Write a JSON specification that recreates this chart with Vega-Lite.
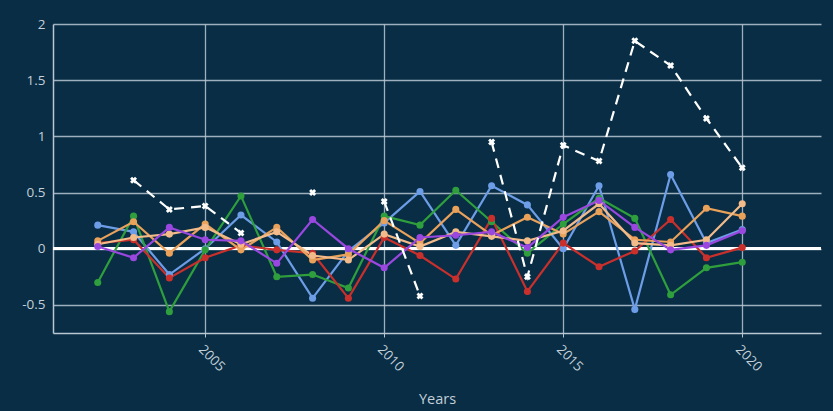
{
  "$schema": "https://vega.github.io/schema/vega-lite/v6.json",
  "width": 768,
  "height": 309,
  "autosize": "none",
  "padding": {"left": 53, "top": 24, "right": 12, "bottom": 78},
  "background": "#082d44",
  "config": {
    "view": {"stroke": null},
    "font": "Open Sans",
    "axis": {
      "labelColor": "#c3cfd9",
      "titleColor": "#c3cfd9",
      "labelFont": "Open Sans",
      "titleFont": "Open Sans",
      "labelFontSize": 13.5,
      "titleFontSize": 14.5,
      "titleFontWeight": "normal",
      "gridColor": "#b9c7d2",
      "gridWidth": 1.3,
      "gridOpacity": 0.85,
      "domainColor": "#b9c7d2",
      "domainWidth": 1.5,
      "tickColor": "#b9c7d2"
    }
  },
  "data": {
    "values": [
      {"year": 2002, "blue": 0.21, "green": -0.30, "red": 0.05, "orange": 0.07, "peach": 0.04, "purple": 0.02, "white": null},
      {"year": 2003, "blue": 0.15, "green": 0.29, "red": 0.08, "orange": 0.24, "peach": 0.10, "purple": -0.08, "white": 0.61},
      {"year": 2004, "blue": -0.23, "green": -0.56, "red": -0.26, "orange": -0.04, "peach": 0.13, "purple": 0.19, "white": 0.35},
      {"year": 2005, "blue": 0.00, "green": -0.01, "red": -0.08, "orange": 0.22, "peach": 0.19, "purple": 0.08, "white": 0.38},
      {"year": 2006, "blue": 0.30, "green": 0.47, "red": 0.03, "orange": -0.01, "peach": 0.04, "purple": 0.07, "white": 0.14},
      {"year": 2007, "blue": 0.06, "green": -0.25, "red": -0.01, "orange": 0.19, "peach": 0.15, "purple": -0.13, "white": null},
      {"year": 2008, "blue": -0.44, "green": -0.23, "red": -0.04, "orange": -0.10, "peach": -0.06, "purple": 0.26, "white": 0.50},
      {"year": 2009, "blue": -0.02, "green": -0.35, "red": -0.44, "orange": -0.05, "peach": -0.10, "purple": 0.00, "white": null},
      {"year": 2010, "blue": 0.23, "green": 0.29, "red": 0.10, "orange": 0.25, "peach": 0.13, "purple": -0.17, "white": 0.42},
      {"year": 2011, "blue": 0.51, "green": 0.21, "red": -0.06, "orange": 0.05, "peach": 0.02, "purple": 0.10, "white": -0.42},
      {"year": 2012, "blue": 0.03, "green": 0.52, "red": -0.27, "orange": 0.35, "peach": 0.15, "purple": 0.12, "white": null},
      {"year": 2013, "blue": 0.56, "green": 0.24, "red": 0.27, "orange": 0.12, "peach": 0.11, "purple": 0.15, "white": 0.95},
      {"year": 2014, "blue": 0.39, "green": -0.04, "red": -0.38, "orange": 0.28, "peach": 0.07, "purple": 0.01, "white": -0.25},
      {"year": 2015, "blue": 0.00, "green": 0.22, "red": 0.05, "orange": 0.13, "peach": 0.16, "purple": 0.28, "white": 0.92},
      {"year": 2016, "blue": 0.56, "green": 0.45, "red": -0.16, "orange": 0.33, "peach": 0.40, "purple": 0.43, "white": 0.78},
      {"year": 2017, "blue": -0.54, "green": 0.27, "red": -0.02, "orange": 0.08, "peach": 0.05, "purple": 0.19, "white": 1.85},
      {"year": 2018, "blue": 0.66, "green": -0.41, "red": 0.26, "orange": 0.06, "peach": 0.03, "purple": -0.01, "white": 1.63},
      {"year": 2019, "blue": 0.05, "green": -0.17, "red": -0.08, "orange": 0.36, "peach": 0.08, "purple": 0.03, "white": 1.16},
      {"year": 2020, "blue": 0.17, "green": -0.12, "red": 0.01, "orange": 0.29, "peach": 0.40, "purple": 0.16, "white": 0.72}
    ]
  },
  "transform": [
    {"fold": ["blue", "green", "red", "orange", "peach", "purple", "white"], "as": ["series", "value"]}
  ],
  "encoding": {
    "x": {
      "field": "year",
      "type": "quantitative",
      "scale": {"domain": [2000.75, 2022.2], "nice": false, "zero": false},
      "axis": {
        "values": [2005, 2010, 2015, 2020],
        "format": "d",
        "labelAngle": 45,
        "labelAlign": "left",
        "labelBaseline": "top",
        "labelPadding": 5,
        "tickSize": 4,
        "title": "Years",
        "titlePadding": 19,
        "grid": true
      }
    },
    "y": {
      "field": "value",
      "type": "quantitative",
      "scale": {"domain": [-0.75, 2], "nice": false, "zero": false},
      "axis": {
        "values": [-0.5, 0, 0.5, 1, 1.5, 2],
        "labelExpr": "datum.value < 0 ? '-' + format(-datum.value, '~g') : format(datum.value, '~g')",
        "title": null,
        "ticks": false,
        "labelPadding": 8,
        "grid": true
      }
    }
  },
  "layer": [
    {
      "mark": {"type": "rule", "color": "#ffffff", "strokeWidth": 2.5},
      "encoding": {"y": {"datum": 0}, "x": {"value": 0}, "x2": {"value": 768}}
    },
    {
      "transform": [{"filter": "datum.series !== 'white'"}],
      "mark": {"type": "line", "strokeWidth": 2.2, "point": {"size": 50, "filled": true, "opacity": 1}},
      "encoding": {
        "color": {
          "field": "series",
          "type": "nominal",
          "sort": ["blue", "green", "red", "orange", "peach", "purple"],
          "scale": {
            "domain": ["blue", "green", "red", "orange", "peach", "purple"],
            "range": ["#6d9de6", "#2f9e3c", "#c9302c", "#eaa15a", "#f3bb8a", "#9a47e0"]
          },
          "legend": null
        },
        "order": {"field": "year"}
      }
    },
    {
      "transform": [{"filter": "datum.series === 'white'"}],
      "mark": {"type": "line", "color": "#ffffff", "strokeWidth": 2.2, "strokeDash": [10, 7], "invalid": "break-paths-filter-domains"},
      "encoding": {}
    },
    {
      "transform": [{"filter": "datum.series === 'white' && datum.value != null"}],
      "mark": {"type": "point", "shape": "cross", "angle": 45, "filled": true, "color": "#ffffff", "size": 50, "opacity": 1},
      "encoding": {}
    }
  ]
}
